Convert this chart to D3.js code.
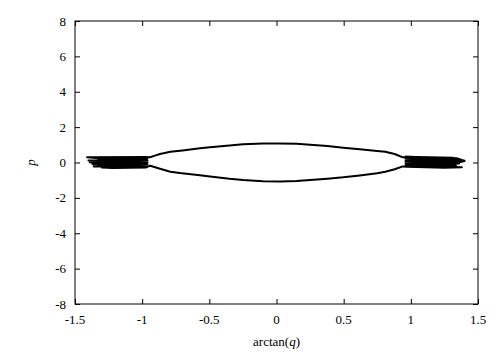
<!DOCTYPE html>
<html><head><meta charset="utf-8">
<script src="https://cdn.jsdelivr.net/npm/d3@7"></script>
<style>
html,body{margin:0;padding:0;background:#fff;}
text{font-family:"Liberation Serif","DejaVu Serif",serif;font-size:13px;fill:#000;}
</style></head>
<body>
<svg id="chart" width="504" height="354"></svg>
<script>
// Orbit in (arctan q, p): upper arc, right cluster, lower arc, left cluster
const arctanQ = [
  // upper arc, left to right
  -0.94,-0.90,-0.867,-0.79,-0.70,-0.57,-0.495,-0.35,-0.249,-0.10,0.027,0.15,0.25,0.38,0.496,0.62,0.749,0.81,0.88,0.94,0.97,
  // right cluster, top to bottom
  1.40,1.31,0.96,1.34,1.38,0.97,1.30,1.36,0.96,1.33,0.97,1.37,1.40,1.32,0.96,1.34,0.97,1.31,1.36,0.96,1.33,0.97,1.29,1.34,0.96,1.30,1.38,1.25,0.97,
  // lower arc, right to left
  0.94,0.88,0.81,0.749,0.62,0.496,0.38,0.25,0.15,0.027,-0.10,-0.249,-0.35,-0.495,-0.57,-0.72,-0.79,-0.867,-0.94,
  // left cluster, bottom to top
  -0.97,-1.22,-1.30,-0.96,-1.27,-1.36,-0.97,-1.31,-0.96,-1.33,-1.29,-0.97,-1.37,-1.32,-0.96,-1.33,-1.39,-0.97,-1.34,-1.29,-0.96,-1.32,-1.40,-0.97,-1.33,-0.96,-1.30,-1.41,-0.97,-0.94
];
const pValues = [
  0.30,0.40,0.48,0.61,0.68,0.80,0.86,0.96,1.03,1.07,1.08,1.06,1.01,0.93,0.84,0.75,0.65,0.61,0.48,0.29,0.29,
  0.10,0.27,0.33,0.24,0.14,0.27,0.19,0.12,0.21,0.08,0.15,0.03,0.09,0.05,0.09,-0.02,0.03,-0.08,-0.05,-0.03,-0.13,-0.09,-0.18,-0.21,-0.15,-0.25,-0.27,-0.30,-0.24,
  -0.22,-0.38,-0.52,-0.61,-0.73,-0.84,-0.92,-0.99,-1.05,-1.08,-1.06,-0.99,-0.92,-0.79,-0.72,-0.60,-0.52,-0.35,-0.18,
  -0.28,-0.31,-0.28,-0.24,-0.23,-0.22,-0.17,-0.20,-0.11,-0.16,-0.10,-0.05,-0.10,-0.07,0.01,-0.03,0.02,0.07,0.04,0.06,0.13,0.10,0.12,0.19,0.17,0.25,0.23,0.29,0.31,0.30
];
const xTicks = [-1.5,-1,-0.5,0,0.5,1,1.5];
const yTicks = [-8,-6,-4,-2,0,2,4,6,8];

const svg = d3.select("#chart");
const L = 75, R = 478, T = 21, B = 304;
const x = d3.scaleLinear().domain([-1.5,1.5]).range([L,R]);
const y = d3.scaleLinear().domain([-8,8]).range([B,T]);

const fmt = d => String(d);

// axes with inward ticks, mirrored
const gB = svg.append("g").attr("transform",`translate(0,${B})`)
  .call(d3.axisTop(x).tickValues(xTicks).tickSize(5).tickFormat(""));
const gT = svg.append("g").attr("transform",`translate(0,${T})`)
  .call(d3.axisBottom(x).tickValues(xTicks).tickSize(5).tickFormat(""));
const gL = svg.append("g").attr("transform",`translate(${L},0)`)
  .call(d3.axisRight(y).tickValues(yTicks).tickSize(5).tickFormat(""));
const gR = svg.append("g").attr("transform",`translate(${R},0)`)
  .call(d3.axisLeft(y).tickValues(yTicks).tickSize(5).tickFormat(""));
[gB,gT,gL,gR].forEach(g=>{g.select(".domain").remove();g.selectAll("line").attr("stroke","#000");});

svg.append("rect").attr("x",L).attr("y",T).attr("width",R-L).attr("height",B-T)
  .attr("fill","none").attr("stroke","#000").attr("stroke-width",1);

// tick labels
svg.append("g").selectAll("text").data(xTicks).join("text")
  .attr("x",d=>x(d)).attr("y",B+20).attr("text-anchor","middle").text(fmt);
svg.append("g").selectAll("text").data(yTicks).join("text")
  .attr("x",L-9).attr("y",d=>y(d)+4.5).attr("text-anchor","end").text(fmt);

// axis labels
const xl = svg.append("text").attr("x",(L+R)/2).attr("y",346).attr("text-anchor","middle");
xl.append("tspan").text("arctan(");
xl.append("tspan").attr("font-style","italic").text("q");
xl.append("tspan").text(")");
svg.append("text").attr("transform",`translate(35,${y(0)}) rotate(-90)`)
  .attr("text-anchor","middle").attr("font-style","italic").text("p");

// orbit
const pts = arctanQ.map((q,i)=>[q,pValues[i]]);
const line = d3.line().x(d=>x(d[0])).y(d=>y(d[1]));
svg.append("path").datum(pts).attr("d",line)
  .attr("fill","none").attr("stroke","#000").attr("stroke-width",2).attr("stroke-linejoin","round");
</script>
</body></html>
